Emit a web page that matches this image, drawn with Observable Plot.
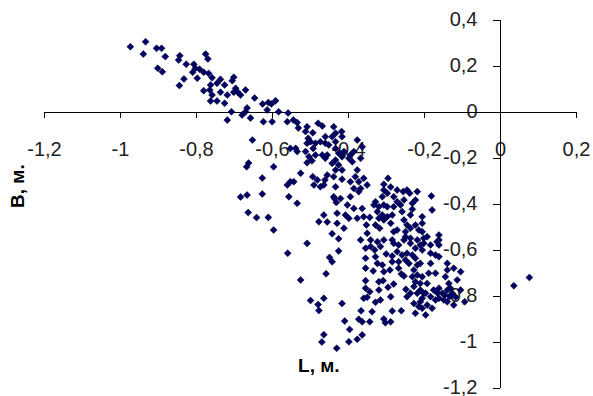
<!DOCTYPE html>
<html><head><meta charset="utf-8">
<script src="https://cdn.jsdelivr.net/npm/d3@7"></script>
<script src="https://cdn.jsdelivr.net/npm/@observablehq/plot@0.6"></script>
<style>body{margin:0;background:#fff} #chart{width:593px;height:396px}</style>
</head><body><div id="chart"></div>
<script>
const L = [
-0.974,-0.934,-0.940,-0.905,-0.892,-0.882,-0.902,-0.890,-0.844,-0.847,
-0.827,-0.833,-0.845,-0.807,-0.803,-0.792,-0.810,-0.798,-0.776,-0.770,
-0.781,-0.768,-0.759,-0.763,-0.746,-0.737,-0.702,-0.706,-0.726,-0.697,
-0.702,-0.781,-0.765,-0.759,-0.763,-0.746,-0.737,-0.719,-0.726,-0.708,
-0.719,-0.692,-0.671,-0.684,-0.647,-0.626,-0.603,-0.592,-0.614,-0.667,
-0.671,-0.680,-0.658,-0.624,-0.601,-0.584,-0.559,-0.561,-0.545,-0.532,
-0.653,-0.663,-0.668,-0.597,-0.627,-0.553,-0.561,-0.684,-0.667,-0.627,
-0.611,-0.535,-0.513,-0.494,-0.480,-0.469,-0.439,-0.418,-0.434,-0.443,
-0.461,-0.506,-0.500,-0.487,-0.474,-0.461,-0.509,-0.493,-0.452,-0.434,
-0.417,-0.553,-0.539,-0.535,-0.513,-0.504,-0.487,-0.469,-0.456,-0.434,
-0.426,-0.412,-0.417,-0.434,-0.461,-0.496,-0.509,-0.443,-0.426,-0.434,
-0.417,-0.399,-0.390,-0.395,-0.526,-0.544,-0.494,-0.482,-0.456,-0.462,
-0.439,-0.417,-0.395,-0.434,-0.474,-0.491,-0.395,-0.439,-0.557,-0.509,
-0.377,-0.364,-0.368,-0.386,-0.377,-0.382,-0.373,-0.351,-0.368,-0.465,
-0.360,-0.386,-0.373,-0.307,-0.296,-0.289,-0.272,-0.256,-0.246,-0.239,
-0.219,-0.182,-0.298,-0.311,-0.281,-0.254,-0.232,-0.224,-0.329,-0.333,
-0.320,-0.386,-0.364,-0.298,-0.263,-0.232,-0.180,-0.324,-0.311,-0.320,
-0.307,-0.298,-0.285,-0.377,-0.360,-0.344,-0.353,-0.318,-0.259,-0.237,
-0.254,-0.246,-0.224,-0.206,-0.215,-0.206,-0.272,-0.281,-0.250,-0.237,
-0.193,-0.162,-0.162,-0.342,-0.324,-0.307,-0.285,-0.281,-0.254,-0.237,
-0.219,-0.316,-0.355,-0.437,-0.421,-0.432,-0.403,-0.465,-0.478,-0.456,
-0.430,-0.430,-0.408,-0.399,-0.443,-0.426,-0.412,-0.426,-0.450,-0.443,
-0.459,-0.509,-0.535,-0.526,-0.560,-0.597,-0.664,-0.642,-0.611,-0.268,
-0.224,-0.211,-0.202,-0.331,-0.301,-0.285,-0.272,-0.259,-0.246,-0.232,
-0.355,-0.250,-0.241,-0.219,-0.211,-0.324,-0.311,-0.335,-0.291,-0.268,
-0.261,-0.254,-0.232,-0.219,-0.206,-0.211,-0.224,-0.355,-0.320,-0.309,
-0.296,-0.281,-0.249,-0.237,-0.219,-0.211,-0.202,-0.344,-0.360,-0.351,
-0.329,-0.417,-0.228,-0.211,-0.206,-0.224,-0.367,-0.338,-0.285,-0.261,
-0.410,-0.373,-0.364,-0.344,-0.307,-0.303,-0.289,-0.397,-0.364,-0.377,
-0.399,-0.500,-0.480,-0.465,-0.478,-0.465,-0.470,-0.431,-0.206,-0.184,
-0.171,-0.167,-0.184,-0.140,-0.123,-0.105,-0.189,-0.145,-0.136,-0.162,
-0.153,-0.140,-0.132,-0.127,-0.162,-0.149,-0.140,-0.171,-0.184,-0.197,
-0.206,-0.215,-0.193,-0.180,-0.197,-0.123,-0.094,0.035,0.076,-0.206,
-0.202,-0.184,-0.171,-0.193,-0.176,-0.246,-0.228,-0.268,-0.228,-0.224,
-0.250,-0.237,-0.289,-0.329,-0.342,-0.329,-0.285,-0.307,-0.320,-0.351,
-0.368,-0.355,-0.307,-0.272,-0.281,-0.162,-0.162,-0.105,-0.114,-0.140,
-0.289,-0.316,-0.355,-0.147,-0.134,-0.118,-0.166,-0.307
];
const B = [
0.286,0.308,0.254,0.279,0.279,0.243,0.192,0.177,0.247,0.228,
0.210,0.146,0.117,0.210,0.192,0.188,0.175,0.149,0.254,0.233,
0.175,0.170,0.151,0.120,0.127,0.144,0.153,0.138,0.120,0.105,
0.088,0.095,0.098,0.076,0.050,0.050,0.088,0.076,0.040,0.003,
-0.033,0.089,0.098,0.076,0.063,0.037,0.037,0.051,0.011,0.020,
0.003,-0.011,-0.024,-0.040,-0.040,0.003,-0.002,-0.040,-0.033,-0.067,
-0.120,-0.220,-0.236,-0.236,-0.285,-0.301,-0.315,-0.367,-0.359,-0.354,
0.043,-0.044,-0.083,-0.088,-0.047,-0.059,-0.062,-0.083,-0.090,-0.105,
-0.105,-0.112,-0.127,-0.134,-0.127,-0.134,-0.134,-0.156,-0.141,-0.127,
-0.105,-0.156,-0.156,-0.170,-0.170,-0.192,-0.185,-0.185,-0.185,-0.156,
-0.177,-0.170,-0.192,-0.207,-0.199,-0.210,-0.218,-0.221,-0.228,-0.250,
-0.250,-0.199,-0.214,-0.185,-0.264,-0.301,-0.279,-0.293,-0.272,-0.293,
-0.279,-0.290,-0.301,-0.323,-0.323,-0.315,-0.366,-0.366,-0.366,-0.062,
-0.120,-0.149,-0.199,-0.170,-0.250,-0.279,-0.301,-0.315,-0.330,-0.315,
-0.286,-0.330,-0.344,-0.312,-0.286,-0.324,-0.337,-0.344,-0.337,-0.351,
-0.344,-0.363,-0.351,-0.366,-0.366,-0.380,-0.395,-0.380,-0.388,-0.402,
-0.410,-0.417,-0.417,-0.410,-0.402,-0.421,-0.424,-0.431,-0.446,-0.460,
-0.467,-0.453,-0.446,-0.460,-0.453,-0.456,-0.489,-0.503,-0.431,-0.446,
-0.467,-0.489,-0.489,-0.453,-0.511,-0.518,-0.511,-0.518,-0.518,-0.503,
-0.540,-0.533,-0.554,-0.554,-0.562,-0.554,-0.554,-0.569,-0.554,-0.569,
-0.554,-0.583,-0.590,-0.374,-0.374,-0.391,-0.402,-0.446,-0.475,-0.476,
-0.438,-0.482,-0.446,-0.460,-0.527,-0.549,-0.503,-0.602,-0.630,-0.649,
-0.701,-0.569,-0.395,-0.728,-0.612,-0.511,-0.435,-0.457,-0.456,-0.576,
-0.590,-0.576,-0.569,-0.598,-0.615,-0.624,-0.605,-0.620,-0.612,-0.620,
-0.634,-0.641,-0.656,-0.663,-0.656,-0.656,-0.663,-0.689,-0.685,-0.677,
-0.702,-0.711,-0.714,-0.707,-0.714,-0.743,-0.736,-0.731,-0.736,-0.731,
-0.760,-0.746,-0.769,-0.786,-0.786,-0.772,-0.786,-0.779,-0.808,-0.803,
-0.825,-0.830,-0.830,-0.823,-0.851,-0.873,-0.862,-0.866,-0.863,-0.862,
-0.907,-0.899,-0.910,-0.910,-0.898,-0.914,-0.910,-0.943,-0.967,-0.986,
-0.997,-0.817,-0.835,-0.808,-0.861,-0.966,-0.998,-1.025,-0.598,-0.576,
-0.620,-0.562,-0.656,-0.656,-0.677,-0.692,-0.699,-0.714,-0.743,-0.764,
-0.786,-0.772,-0.764,-0.786,-0.808,-0.815,-0.823,-0.815,-0.801,-0.786,
-0.808,-0.844,-0.837,-0.851,-0.880,-0.837,-0.823,-0.753,-0.717,-0.482,
-0.547,-0.612,-0.699,-0.743,-0.772,-0.801,-0.757,-0.649,-0.685,-0.634,
-0.540,-0.547,-0.482,-0.489,-0.583,-0.627,-0.649,-0.692,-0.772,-0.525,
-0.554,-0.677,-0.402,-0.388,-0.410,-0.627,-0.576,-0.772,-0.728,-0.685,
-0.801,-0.815,-0.764,-0.793,-0.800,-0.802,-0.785,-0.337
];
const xTicks = [-1.2, -1, -0.8, -0.6, -0.4, -0.2, 0, 0.2];
const yTicks = [0.4, 0.2, 0, -0.2, -0.4, -0.6, -0.8, -1, -1.2];
const xTitle = "L, м.";
const yTitle = "B, м.";

const points = L.map((l, i) => ({L: l, B: B[i]}));
const fmt = d => String(Math.round(d * 10) / 10 || 0).replace(".", ",");
const diamond = {
  draw(ctx, size) {
    const s = Math.sqrt(size / 2);
    ctx.moveTo(0, -s); ctx.lineTo(s, 0); ctx.lineTo(0, s); ctx.lineTo(-s, 0); ctx.closePath();
  }
};

const chart = Plot.plot({
  width: 593, height: 396,
  marginLeft: 44, marginRight: 17, marginTop: 20, marginBottom: 8,
  x: {domain: [-1.2, 0.2], axis: null},
  y: {domain: [-1.2, 0.4], axis: null},
  style: {fontFamily: "'Liberation Sans', Arial, sans-serif", background: "#fff"},
  marks: [
    Plot.text(xTicks, {x: d => d, y: 0, dy: 37, text: fmt, fontSize: 20, fill: "#222"}),
    Plot.text(yTicks, {y: d => d, x: 0, dx: -23, dy: -1, text: fmt, textAnchor: "end", fontSize: 20, fill: "#222"}),
    Plot.ruleY([0], {stroke: "#000", strokeWidth: 1}),
    Plot.ruleX([0], {stroke: "#000", strokeWidth: 1}),
    Plot.ruleX(xTicks, {x: d => d, y1: 0, y2: 0, insetBottom: -6, stroke: "#000"}),
    Plot.ruleY(yTicks, {y: d => d, x1: 0, x2: 0, insetLeft: -7, stroke: "#000"}),
    Plot.text([xTitle], {x: -0.478, y: -1.1, text: d => d, fontSize: 19, fontWeight: "bold", fill: "#000"}),
    Plot.text([yTitle], {frameAnchor: "left", y: -0.32, dx: -27, rotate: -90, textAnchor: "middle", text: d => d, fontSize: 19, fontWeight: "bold", fill: "#000"}),
    Plot.dot(points, {x: "L", y: "B", symbol: diamond, r: 2.8, fill: "#000066", stroke: "#000022", strokeWidth: 0.5})
  ]
});
document.getElementById("chart").appendChild(chart);
</script>
</body></html>
